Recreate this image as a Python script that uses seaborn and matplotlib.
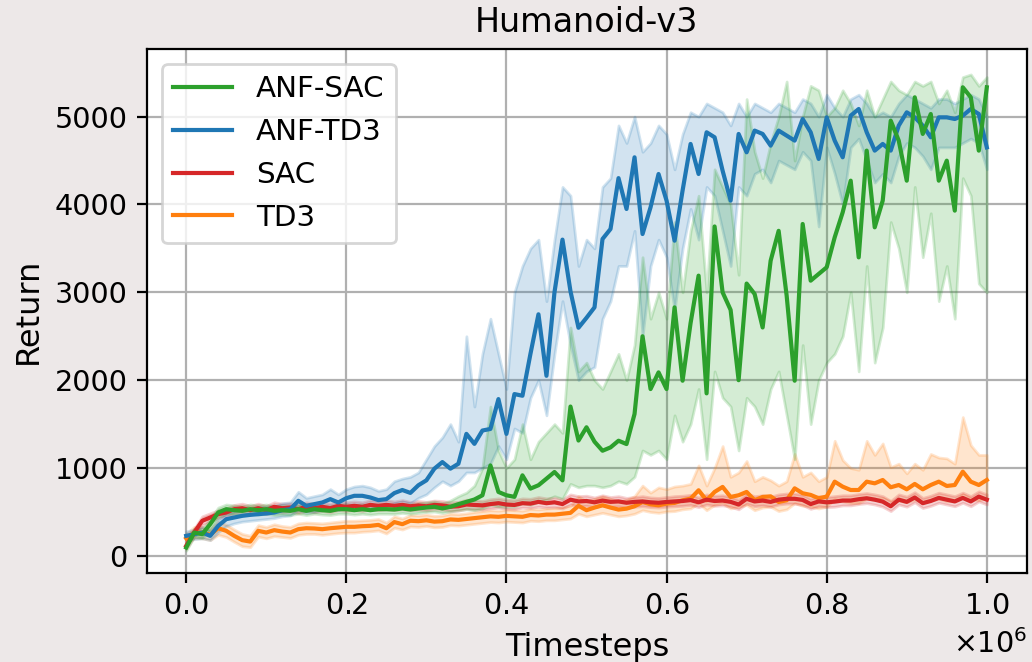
import numpy as np
import pandas as pd
import matplotlib
matplotlib.use("Agg")
import matplotlib.pyplot as plt
import seaborn as sns

# Evaluation every 10k timesteps over 1M steps
timesteps = np.arange(0, 1_000_001, 10_000)

# ---- ANF-TD3 ----
anf_td3_mean = [228, 247, 266, 228, 342, 418, 437, 456, 467, 475,
                483, 494, 520, 532, 627, 570, 589, 608, 646, 608,
                657, 684, 684, 665, 635, 646, 715, 750, 717, 804,
                860, 993, 1068, 993, 1049, 1389, 1275, 1427, 1445, 1785,
                1389, 1842, 1823, 2300, 2750, 2050, 3000, 3600, 3012, 2597,
                2710, 2829, 3607, 3721, 4300, 3949, 4537, 3664, 3968, 4347,
                4044, 3588, 4158, 4689, 4347, 4822, 4765, 4385, 4044, 4803,
                4594, 4841, 4803, 4670, 4841, 4784, 4727, 4973, 4822, 4518,
                4992, 4727, 4537, 5011, 5087, 4822, 4613, 4689, 4613, 4898,
                5049, 4992, 4898, 4765, 4992, 4992, 4973, 5011, 5087, 5030,
                4650]
anf_td3_lo = [180, 190, 200, 180, 270, 340, 370, 390, 400, 410,
              420, 430, 450, 460, 520, 490, 500, 520, 540, 520,
              560, 580, 570, 560, 540, 550, 600, 620, 600, 660,
              700, 780, 850, 800, 850, 950, 950, 1000, 1050, 1250,
              1100, 1450, 1400, 1800, 2000, 1600, 2300, 2900, 2400, 2000,
              2100, 2150, 2700, 2900, 3300, 3300, 3700, 2500, 3300, 3600,
              3400, 2800, 3500, 3950, 3600, 4200, 4100, 3700, 3300, 4200,
              4100, 4350, 4400, 4250, 4500, 4450, 4400, 4600, 4500, 3750,
              4650, 4350, 4000, 4650, 4750, 4500, 4250, 4350, 4250, 4550,
              4700, 4650, 4550, 4400, 4650, 4650, 4650, 4700, 4750, 4700,
              4400]
anf_td3_hi = [280, 300, 330, 290, 410, 490, 510, 530, 540, 550,
              560, 570, 600, 610, 730, 660, 680, 700, 760, 700,
              760, 790, 800, 780, 740, 760, 850, 880, 900, 950,
              1100, 1250, 1350, 1500, 1300, 2500, 1700, 2300, 2700, 2300,
              1900, 3000, 3300, 3500, 3600, 2900, 3600, 4200, 4100, 3300,
              3600, 3500, 4200, 4300, 4900, 4700, 5000, 4600, 4700, 4900,
              4800, 4400, 4800, 5050, 5000, 5150, 5100, 5050, 4900, 5150,
              5000, 5150, 5100, 5050, 5150, 5100, 5050, 5200, 5150, 5000,
              5250, 5100, 5000, 5200, 5250, 5150, 5000, 5050, 5000, 5150,
              5250, 5200, 5150, 5100, 5200, 5200, 5150, 5200, 5250, 5200,
              5000]

# ---- ANF-SAC ----
anf_sac_mean = [95, 266, 247, 361, 494, 532, 520, 513, 532, 520,
                532, 513, 520, 513, 532, 513, 532, 520, 513, 532,
                532, 520, 532, 520, 532, 532, 528, 540, 528, 540,
                551, 559, 540, 559, 589, 615, 642, 690, 1030, 728,
                690, 672, 917, 766, 804, 879, 955, 860, 1700, 1313,
                1464, 1300, 1197, 1235, 1311, 1273, 1615, 2500, 1899, 2089,
                1899, 2829, 1994, 2650, 3190, 1850, 3750, 3000, 2800, 2000,
                3100, 2981, 2600, 3360, 3700, 2962, 1994, 3778, 3133, 3209,
                3285, 3626, 3911, 4271, 3398, 4613, 3740, 4044, 4954, 4727,
                4271, 5220, 4803, 5030, 4271, 4499, 3930, 5334, 5220, 4613,
                5334]
anf_sac_lo = [60, 220, 200, 300, 440, 480, 470, 465, 480, 470,
              480, 465, 470, 465, 480, 465, 480, 470, 465, 480,
              480, 470, 480, 470, 480, 480, 478, 490, 478, 490,
              500, 505, 490, 505, 520, 530, 520, 540, 580, 560,
              560, 560, 600, 580, 620, 640, 680, 650, 820, 780,
              800, 800, 780, 800, 850, 820, 900, 1200, 1150, 1200,
              1100, 1600, 1300, 1500, 1900, 1100, 2100, 1800, 1700, 1200,
              1800, 1700, 1500, 1900, 2100, 1600, 1100, 2400, 1500, 2000,
              2200, 2300, 2500, 3000, 2100, 3300, 2200, 2600, 3800, 3500,
              3000, 4200, 3400, 3900, 2900, 3300, 2700, 4300, 4100, 3100,
              3000]
anf_sac_hi = [130, 310, 300, 420, 550, 585, 575, 565, 585, 575,
              585, 565, 575, 565, 585, 565, 585, 575, 565, 585,
              585, 575, 585, 575, 585, 585, 580, 595, 585, 600,
              610, 620, 600, 630, 680, 720, 800, 1000, 1700, 1200,
              1000, 1100, 1500, 1100, 1300, 1400, 1500, 1400, 2600, 2100,
              2200, 2000, 1900, 2100, 2300, 2000, 2400, 3400, 2700, 3000,
              2700, 3800, 3000, 3700, 4100, 3000, 4400, 4200, 4000, 3200,
              5200, 4600, 4300, 4700, 5000, 5400, 4500, 5000, 5350, 5300,
              5000, 5100, 5300, 5150, 4900, 5300, 5000, 5200, 5400, 5300,
              5250, 5400, 5350, 5400, 5150, 5300, 5050, 5450, 5480, 5350,
              5450]

# ---- SAC ----
sac_mean = [114, 266, 399, 437, 475, 494, 532, 543, 520, 543,
            520, 559, 543, 551, 532, 559, 543, 559, 543, 570,
            559, 570, 559, 581, 570, 581, 570, 581, 565, 575,
            565, 580, 575, 560, 565, 585, 580, 575, 590, 600,
            585, 580, 600, 595, 615, 600, 610, 590, 640, 620,
            625, 610, 630, 615, 620, 605, 615, 620, 610, 605,
            614, 620, 625, 635, 610, 640, 625, 630, 615, 585,
            650, 620, 630, 615, 640, 650, 650, 637, 590, 620,
            610, 618, 630, 630, 645, 656, 640, 618, 565, 640,
            615, 665, 600, 625, 660, 640, 620, 660, 620, 675,
            640]
sac_lo = [80, 220, 350, 390, 430, 450, 485, 495, 475, 495,
          475, 510, 495, 505, 485, 510, 495, 510, 495, 520,
          510, 520, 510, 530, 520, 530, 520, 530, 515, 525,
          515, 530, 525, 510, 515, 535, 530, 525, 540, 550,
          535, 530, 550, 545, 560, 550, 555, 540, 585, 565,
          570, 555, 575, 560, 565, 550, 560, 565, 555, 550,
          560, 565, 570, 580, 555, 585, 570, 575, 560, 530,
          595, 565, 575, 560, 585, 595, 595, 580, 535, 565,
          555, 560, 575, 575, 590, 600, 585, 560, 510, 585,
          560, 610, 545, 570, 605, 585, 565, 605, 565, 620,
          585]
sac_hi = [150, 310, 450, 485, 520, 540, 580, 595, 570, 595,
          570, 610, 595, 600, 580, 610, 595, 610, 595, 620,
          610, 620, 610, 635, 620, 635, 620, 635, 615, 625,
          615, 630, 625, 610, 615, 640, 635, 625, 645, 655,
          640, 635, 655, 650, 670, 655, 665, 645, 700, 680,
          685, 665, 690, 670, 680, 660, 670, 680, 665, 660,
          670, 680, 685, 695, 665, 700, 685, 690, 670, 640,
          710, 680, 690, 675, 700, 710, 710, 695, 650, 680,
          670, 680, 690, 690, 705, 715, 700, 680, 625, 700,
          675, 725, 660, 685, 720, 700, 680, 720, 680, 735,
          700]

# ---- TD3 ----
td3_mean = [200, 266, 266, 240, 315, 285, 228, 179, 163, 285,
            266, 293, 277, 266, 304, 315, 312, 304, 315, 323,
            331, 331, 338, 342, 353, 315, 385, 361, 400, 395,
            405, 390, 395, 415, 410, 420, 430, 440, 450, 445,
            455, 450, 445, 465, 460, 470, 470, 480, 490, 570,
            520, 550, 576, 550, 527, 538, 565, 614, 587, 576,
            595, 603, 633, 652, 747, 633, 728, 785, 671, 690,
            728, 633, 671, 678, 614, 633, 769, 713, 694, 656,
            675, 845, 788, 750, 750, 845, 826, 864, 781, 807,
            758, 819, 758, 807, 845, 796, 807, 959, 845, 807,
            864]
td3_lo = [150, 200, 200, 180, 240, 215, 160, 110, 100, 220,
          200, 225, 215, 205, 240, 250, 250, 240, 250, 260,
          265, 265, 275, 280, 290, 255, 320, 300, 335, 330,
          340, 325, 330, 350, 345, 355, 365, 375, 385, 380,
          390, 385, 380, 400, 395, 405, 405, 415, 425, 480,
          450, 470, 490, 470, 450, 460, 480, 520, 500, 490,
          505, 510, 530, 540, 600, 520, 580, 600, 540, 560,
          580, 520, 550, 560, 510, 530, 600, 570, 560, 540,
          560, 650, 620, 600, 600, 650, 640, 660, 620, 630,
          610, 640, 610, 630, 650, 620, 630, 700, 650, 630,
          660]
td3_hi = [250, 330, 330, 300, 390, 355, 300, 250, 230, 350,
          330, 360, 340, 330, 370, 380, 375, 370, 380, 390,
          400, 400, 405, 410, 420, 380, 450, 425, 465, 460,
          470, 455, 460, 480, 475, 485, 500, 510, 520, 515,
          525, 520, 515, 535, 530, 540, 545, 555, 570, 680,
          620, 650, 680, 650, 620, 640, 680, 800, 720, 780,
          760, 790, 800, 820, 1030, 800, 1000, 1250, 900, 950,
          1080, 850, 900, 860, 800, 850, 1160, 900, 950, 850,
          900, 1310, 1090, 1000, 980, 1310, 1150, 1280, 1010, 1050,
          940, 1050, 980, 1160, 1120, 1110, 1050, 1580, 1260, 1150,
          1150]

legend_order = ["ANF-SAC", "ANF-TD3", "SAC", "TD3"]
draw_order = ["TD3", "SAC", "ANF-TD3", "ANF-SAC"]
colors = {"ANF-SAC": "#2ca02c", "ANF-TD3": "#1f77b4",
          "SAC": "#d62728", "TD3": "#ff7f0e"}
series = {
    "ANF-SAC": (anf_sac_mean, anf_sac_lo, anf_sac_hi),
    "ANF-TD3": (anf_td3_mean, anf_td3_lo, anf_td3_hi),
    "SAC": (sac_mean, sac_lo, sac_hi),
    "TD3": (td3_mean, td3_lo, td3_hi),
}

df = pd.concat(
    [pd.DataFrame({"Timesteps": timesteps, "Return": series[name][0], "Algorithm": name})
     for name in draw_order],
    ignore_index=True,
)

bg = "#ede8e8"
fig = plt.figure(figsize=(5.16, 3.31), dpi=200, facecolor=bg)
ax = fig.add_axes([0.1424, 0.1344, 0.8526, 0.7916])
ax.set_facecolor("white")

# shaded spread around each curve
for name in draw_order:
    _, lo, hi = series[name]
    ax.fill_between(timesteps, lo, hi, color=colors[name], alpha=0.2)

sns.lineplot(data=df, x="Timesteps", y="Return", hue="Algorithm",
             hue_order=draw_order, palette=colors, linewidth=1.5,
             ax=ax, legend=True)

handles, labels = ax.get_legend_handles_labels()
lookup = dict(zip(labels, handles))
ax.legend([lookup[n] for n in legend_order], legend_order,
          loc="upper left", fontsize=10.6, framealpha=0.8)

ax.set_xlim(-49000, 1050000)
ax.set_ylim(-195, 5770)
ax.set_yticks([0, 1000, 2000, 3000, 4000, 5000])
ax.set_xticks([0, 200000, 400000, 600000, 800000, 1000000])
ax.ticklabel_format(style="sci", axis="x", scilimits=(0, 0), useMathText=True)
ax.xaxis.get_offset_text().set_fontsize(10.3)
ax.tick_params(labelsize=10.3)
ax.grid(True, color="#b0b0b0", linewidth=0.8)
ax.set_axisbelow(True)
ax.set_xlabel("Timesteps", fontsize=11.5)
ax.set_ylabel("Return", fontsize=11.5)
ax.set_title("Humanoid-v3", fontsize=12)

fig.savefig("out.png", dpi=200, facecolor=bg)
